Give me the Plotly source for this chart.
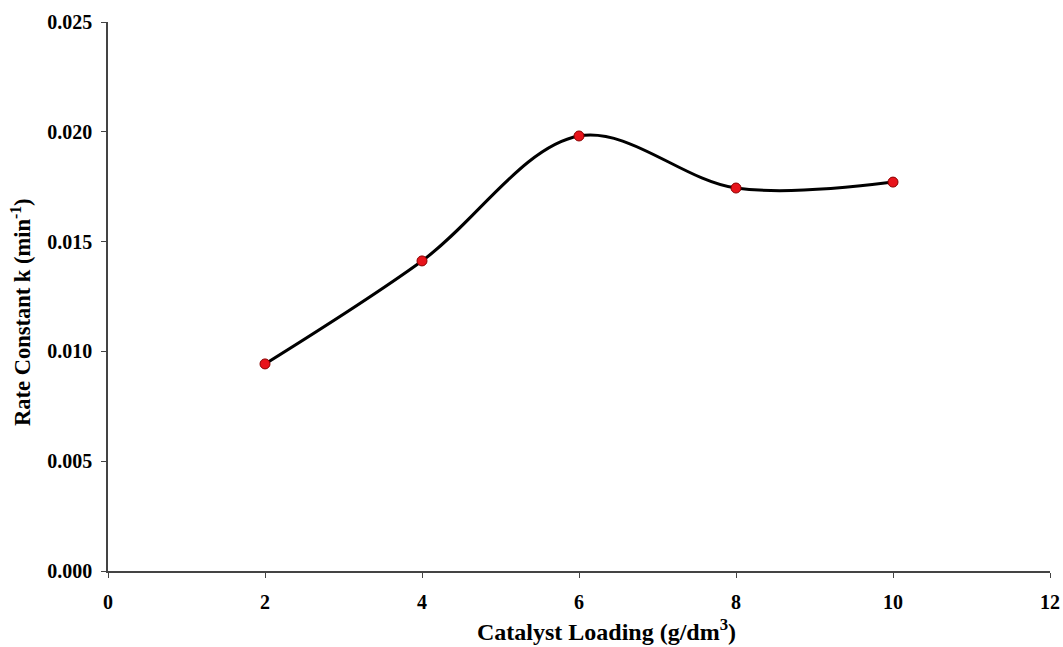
import plotly.graph_objects as go

loading = [2, 4, 6, 8, 10]
rate_k = [0.00943, 0.01412, 0.01981, 0.01744, 0.01771]
x_ticks = [0, 2, 4, 6, 8, 10, 12]
y_ticks = [0.000, 0.005, 0.010, 0.015, 0.020, 0.025]

font_family = "Liberation Serif, Times New Roman, serif"

fig = go.Figure()
fig.add_trace(go.Scatter(
    x=loading, y=rate_k, mode="lines+markers",
    line=dict(color="black", width=3, shape="spline", smoothing=1),
    marker=dict(color="#e8141b", size=10, line=dict(color="#8b0000", width=1)),
    showlegend=False,
))

fig.update_layout(
    width=1063, height=647,
    margin=dict(l=108, r=13, t=22, b=76),
    paper_bgcolor="white", plot_bgcolor="white",
    font=dict(family=font_family, color="black"),
    xaxis=dict(
        range=[0, 12], tickvals=x_ticks, ticktext=[str(v) for v in x_ticks],
        showgrid=False, zeroline=False, showline=True, linecolor="#444", linewidth=1.5,
        ticks="outside", ticklen=5, tickcolor="#444", automargin=False,
        ticklabelstandoff=7,
        tickfont=dict(size=20, family=font_family, weight="bold"),
    ),
    yaxis=dict(
        range=[0, 0.025], tickvals=y_ticks, ticktext=[f"{v:.3f}" for v in y_ticks],
        showgrid=False, zeroline=False, showline=True, linecolor="#444", linewidth=1.5,
        ticks="outside", ticklen=5, tickcolor="#444", automargin=False,
        ticklabelstandoff=5,
        tickfont=dict(size=20, family=font_family, weight="bold"),
    ),
    annotations=[
        dict(text="<b>Catalyst Loading (g/dm<sup>3</sup>)</b>", xref="paper", yref="paper",
             x=0.5287, y=-0.1075, xanchor="center", yanchor="middle", showarrow=False,
             font=dict(size=24, family=font_family, color="black")),
        dict(text="<b>Rate Constant k (min<sup>-1</sup>)</b>", xref="paper", yref="paper",
             x=-0.0924, y=0.4718, xanchor="center", yanchor="middle", showarrow=False,
             textangle=-90, font=dict(size=22.5, family=font_family, color="black")),
    ],
)

fig.write_html("out.html")
